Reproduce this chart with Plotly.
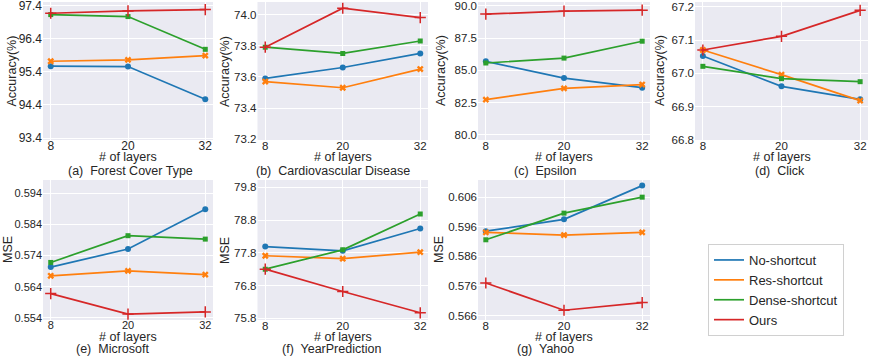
import plotly.graph_objects as go

# x values shared by every panel
layers = [8, 20, 32]

methods = ["No-shortcut", "Res-shortcut", "Dense-shortcut", "Ours"]
colors = ["#1f77b4", "#ff7f0e", "#2ca02c", "#d62728"]
symbols = ["circle", "x", "square", "cross-thin"]

# (a) Forest Cover Type
forest_no = [95.57, 95.56, 94.57]
forest_res = [95.72, 95.76, 95.89]
forest_dense = [97.13, 97.07, 96.08]
forest_ours = [97.17, 97.24, 97.28]
# (b) Cardiovascular Disease
cardio_no = [73.59, 73.66, 73.75]
cardio_res = [73.57, 73.53, 73.65]
cardio_dense = [73.79, 73.75, 73.83]
cardio_ours = [73.79, 74.04, 73.98]
# (c) Epsilon
eps_no = [85.7, 84.4, 83.66]
eps_res = [82.73, 83.6, 83.9]
eps_dense = [85.57, 85.95, 87.26]
eps_ours = [89.36, 89.59, 89.67]
# (d) Click
click_no = [67.052, 66.961, 66.922]
click_res = [67.07, 66.996, 66.918]
click_dense = [67.021, 66.984, 66.975]
click_ours = [67.07, 67.111, 67.189]
# (e) Microsoft
ms_no = [0.5703, 0.5761, 0.5889]
ms_res = [0.5675, 0.5691, 0.5679]
ms_dense = [0.5718, 0.5804, 0.5793]
ms_ours = [0.5618, 0.5552, 0.5559]
# (f) YearPrediction
year_no = [77.99, 77.86, 78.54]
year_res = [77.71, 77.62, 77.82]
year_dense = [77.3, 77.89, 78.98]
year_ours = [77.3, 76.62, 75.97]
# (g) Yahoo
yahoo_no = [0.5945, 0.5985, 0.6099]
yahoo_res = [0.5941, 0.5932, 0.5941]
yahoo_dense = [0.5916, 0.6006, 0.606]
yahoo_ours = [0.577, 0.5678, 0.5704]

captions = ["(a)  Forest Cover Type", "(b)  Cardiovascular Disease", "(c)  Epsilon",
            "(d)  Click", "(e)  Microsoft", "(f)  YearPrediction", "(g)  Yahoo"]
ytitles = ["Accuracy(%)"] * 4 + ["MSE"] * 3

# tick labels on the y axes
ticks_forest = [93.4, 94.4, 95.4, 96.4, 97.4]
ticks_cardio = [73.2, 73.4, 73.6, 73.8, 74.0]
ticks_eps = [80.0, 82.5, 85.0, 87.5, 90.0]
ticks_click = [66.8, 66.9, 67.0, 67.1, 67.2]
ticks_ms = [0.554, 0.564, 0.574, 0.584, 0.594]
ticks_year = [75.8, 76.8, 77.8, 78.8, 79.8]
ticks_yahoo = [0.566, 0.576, 0.586, 0.596, 0.606]

panels = [
    (forest_no, forest_res, forest_dense, forest_ours),
    (cardio_no, cardio_res, cardio_dense, cardio_ours),
    (eps_no, eps_res, eps_dense, eps_ours),
    (click_no, click_res, click_dense, click_ours),
    (ms_no, ms_res, ms_dense, ms_ours),
    (year_no, year_res, year_dense, year_ours),
    (yahoo_no, yahoo_res, yahoo_dense, yahoo_ours),
]
yticks = [ticks_forest, ticks_cardio, ticks_eps, ticks_click, ticks_ms, ticks_year, ticks_yahoo]
tickfmt = [".1f", ".1f", ".1f", ".1f", ".3f", ".1f", ".3f"]
yranges = [[93.34, 97.51], [73.195, 74.08], [79.6, 90.3], [66.8, 67.214],
           [0.5533, 0.5983], [75.75, 80.02], [0.5645, 0.6118]]

W, H = 872, 357
col_px = [(43, 213), (257.5, 428), (478, 650), (695, 868)]
row_px = [(2, 140), (180, 320)]
# label positions in pixels
ytitle_x = [11.5, 225, 441, 660, 8, 225, 439]
xtitle_y = [156.5, 337]
caption_y = [170.5, 349]
caption_x = [130, 333, 545, 780, 112, 331, 545]

text_color = "#262626"
font = "Liberation Sans, Arial, sans-serif"
fs = 12.5
tick_fs = [12, 11.5, 11.5, 11.5, 11, 11.5, 11.5]

fig = go.Figure()
layout = {}
for i, series in enumerate(panels):
    n = i + 1
    row, col = divmod(i, 4)
    xa = "x" if n == 1 else f"x{n}"
    ya = "y" if n == 1 else f"y{n}"
    for k, vals in enumerate(series):
        fig.add_trace(go.Scatter(
            x=layers, y=vals, mode="lines+markers", xaxis=xa, yaxis=ya,
            line=dict(color=colors[k], width=1.7),
            marker=dict(symbol=symbols[k], color=colors[k],
                        size=[6, 6, 5, 8][k],
                        line=dict(color=colors[k], width=1.5 if k == 3 else 0)),
            showlegend=False, name=methods[k],
        ))
    x0, x1 = col_px[col]
    y0, y1 = row_px[row]
    layout["xaxis" if n == 1 else f"xaxis{n}"] = dict(
        domain=[x0 / W, x1 / W], range=[6.8, 33.2], tickvals=layers,
        showgrid=True, gridcolor="white", gridwidth=1, zeroline=False,
        showline=False, ticks="", anchor=ya, ticklabeloverflow="allow",
        ticklabelstandoff=-3, tickfont=dict(size=tick_fs[i], color=text_color),
    )
    layout["yaxis" if n == 1 else f"yaxis{n}"] = dict(
        domain=[1 - y1 / H, 1 - y0 / H], range=yranges[i], tickvals=yticks[i],
        tickformat=tickfmt[i], showgrid=True, gridcolor="white", gridwidth=1,
        zeroline=False, showline=False, ticks="", anchor=xa, ticklabeloverflow="allow",
        tickfont=dict(size=tick_fs[i], color=text_color),
    )
    # x title, caption and y title as paper annotations
    fig.add_annotation(
        text="# of layers", x=(x0 + x1) / 2 / W, y=1 - xtitle_y[row] / H,
        xref="paper", yref="paper", showarrow=False, xanchor="center", yanchor="middle",
        font=dict(size=fs, color=text_color),
    )
    fig.add_annotation(
        text=captions[i], x=caption_x[i] / W, y=1 - caption_y[row] / H,
        xref="paper", yref="paper", showarrow=False, xanchor="center", yanchor="middle",
        font=dict(size=fs, color=text_color),
    )
    fig.add_annotation(
        text=ytitles[i], x=ytitle_x[i] / W, y=1 - (y0 + y1) / 2 / H, textangle=-90,
        xref="paper", yref="paper", showarrow=False, xanchor="center", yanchor="middle",
        font=dict(size=fs, color=text_color),
    )

# legend entries drawn as plain lines
for k in range(4):
    fig.add_trace(go.Scatter(
        x=[None], y=[None], mode="lines", name=methods[k],
        line=dict(color=colors[k], width=1.7), showlegend=True,
    ))

fig.update_layout(
    **layout,
    width=W, height=H,
    margin=dict(l=0, r=0, t=0, b=0),
    template="none",
    plot_bgcolor="#EAEAF2",
    paper_bgcolor="white",
    font=dict(family=font, size=fs, color=text_color),
    legend=dict(
        x=708 / W, y=1 - 244 / H, xanchor="left", yanchor="top",
        bgcolor="white", bordercolor="#d0d0d0", borderwidth=1,
        font=dict(size=13, color=text_color), itemwidth=30, tracegroupgap=0,
    ),
)

# page body has a default 8px margin; drop it so the figure sits at 0,0
fig.write_html("out.html", config={"displayModeBar": False},
               post_script="document.body.style.margin='0';")
